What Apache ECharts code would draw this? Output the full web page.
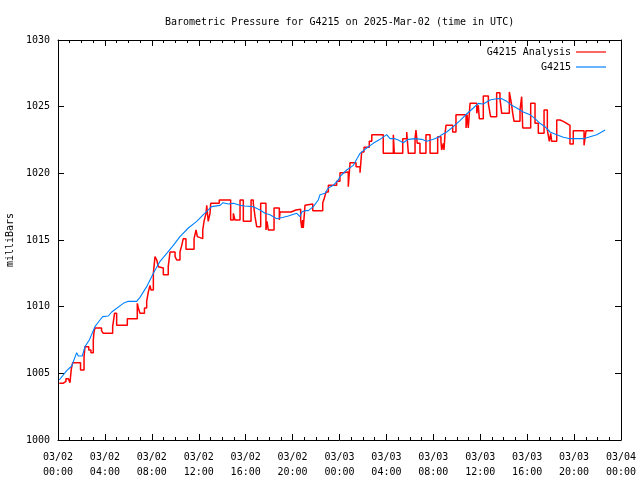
<!DOCTYPE html>
<html>
<head>
<meta charset="utf-8">
<script src="https://cdn.jsdelivr.net/npm/echarts@6/dist/echarts.min.js"></script>
<style>html,body{margin:0;padding:0;background:#fff}#c{width:640px;height:480px}</style>
</head>
<body>
<div id="c"></div>
<script>
// hours since 2025-03-02 00:00 UTC
const analysisTimes = [0.11,0.43,0.68,0.88,1.02,1.13,1.25,1.92,2.22,2.30,2.62,2.81,3.01,3.07,3.15,3.71,3.86,4.66,4.82,5.00,5.91,6.76,6.85,6.99,7.37,7.56,7.70,7.84,7.93,8.13,8.27,8.42,8.55,8.70,8.98,9.40,9.55,9.98,10.12,10.40,10.55,10.68,10.91,11.60,11.77,11.88,11.96,12.34,12.45,12.53,12.62,12.68,12.81,12.96,13.02,13.75,14.72,14.95,15.09,15.52,15.80,16.46,16.65,16.80,16.94,17.28,17.73,17.82,17.93,18.42,18.87,18.93,19.87,20.29,20.69,20.78,20.86,20.91,21.06,21.20,21.72,22.34,22.48,22.57,22.68,22.85,23.05,23.76,24.04,24.32,24.75,24.84,24.90,25.41,25.75,25.89,26.09,26.54,26.75,27.73,28.59,28.67,29.39,29.73,29.87,30.44,30.52,30.63,30.86,31.37,31.72,32.37,32.65,32.71,32.85,32.91,32.99,33.08,33.65,33.93,34.79,34.87,34.98,35.13,35.70,35.83,35.92,36.26,36.69,36.83,36.89,37.40,37.68,37.83,38.48,38.60,38.68,38.77,38.88,39.39,39.53,39.62,40.30,40.67,40.95,41.44,41.72,41.89,42.01,42.09,42.52,42.80,43.08,43.37,43.65,43.93,44.85,45.02,45.64];
const analysisValues = [1004.25,1004.4,1004.6,1004.75,1004.3,1005.3,1005.8,1005.25,1006.25,1007.0,1006.75,1006.55,1007.5,1008.1,1008.4,1008.2,1008.0,1008.5,1009.5,1008.6,1009.1,1010.25,1009.9,1009.5,1009.9,1010.4,1011.1,1011.6,1011.25,1012.5,1013.75,1013.5,1013.0,1012.9,1012.4,1013.0,1014.1,1013.75,1013.5,1014.1,1014.6,1015.1,1014.3,1015.1,1015.75,1015.25,1015.1,1015.75,1016.4,1016.5,1017.0,1017.6,1016.4,1017.0,1017.75,1018.0,1016.5,1017.0,1016.5,1018.0,1016.4,1018.0,1017.75,1016.75,1016.0,1017.75,1015.75,1016.4,1015.75,1017.4,1016.5,1017.1,1017.25,1017.3,1016.5,1015.9,1016.5,1015.9,1017.6,1017.7,1017.2,1017.1,1017.2,1017.8,1018.05,1018.6,1019.1,1019.4,1020.05,1020.1,1019.0,1020.1,1020.8,1020.5,1020.05,1021.6,1021.95,1022.4,1022.9,1021.5,1022.9,1021.5,1022.6,1023.1,1021.5,1022.6,1023.25,1022.25,1021.5,1022.9,1021.5,1022.75,1022.4,1021.75,1022.25,1021.75,1022.9,1023.6,1023.1,1024.4,1023.4,1024.4,1023.4,1025.25,1024.5,1025.1,1024.1,1025.8,1025.25,1024.5,1024.25,1026.05,1025.6,1024.5,1026.1,1025.5,1025.1,1024.5,1023.9,1024.75,1025.75,1023.4,1025.25,1023.75,1023.0,1024.75,1023.25,1022.4,1023.0,1022.4,1024.0,1023.9,1023.75,1023.6,1022.2,1023.2,1022.1,1023.2,1023.2];
const stationTimes = [0.11,0.74,1.17,1.59,1.73,2.07,2.30,2.67,3.15,3.58,3.81,4.29,4.58,4.71,5.57,5.99,6.71,6.99,7.56,8.13,8.70,9.27,9.83,10.40,11.11,11.83,12.39,13.10,13.81,14.07,14.52,14.95,15.52,15.94,16.65,17.22,17.65,18.07,18.65,19.21,19.64,19.78,20.35,20.63,20.78,21.06,21.34,21.77,22.19,22.34,22.76,23.05,23.47,23.90,24.04,24.61,25.18,25.75,26.32,26.88,27.45,28.02,28.31,28.73,29.01,29.44,29.87,30.44,31.01,31.44,32.00,32.42,32.71,33.14,33.70,34.27,34.84,35.41,35.83,36.26,36.83,37.40,37.83,38.26,38.68,39.11,39.67,40.24,40.67,41.09,41.52,41.95,42.52,43.08,43.65,44.22,44.79,45.36,45.93,46.35,46.64];
const stationValues = [1004.5,1005.2,1005.55,1006.55,1006.3,1006.3,1007.0,1007.5,1008.5,1009.0,1009.25,1009.3,1009.6,1009.75,1010.25,1010.4,1010.4,1010.7,1011.5,1012.5,1013.4,1014.0,1014.6,1015.25,1015.9,1016.4,1016.9,1017.5,1017.6,1017.8,1017.7,1017.75,1017.6,1017.55,1017.5,1017.25,1017.0,1016.9,1016.6,1016.7,1016.8,1016.9,1017.0,1016.75,1017.1,1017.2,1017.2,1017.5,1018.0,1018.4,1018.5,1018.9,1019.1,1019.5,1019.75,1020.25,1020.6,1021.5,1021.9,1022.25,1022.55,1022.9,1022.6,1022.6,1022.5,1022.3,1022.55,1022.6,1022.55,1022.4,1022.55,1022.7,1022.9,1023.1,1023.5,1023.95,1024.45,1024.9,1025.25,1025.2,1025.5,1025.6,1025.6,1025.4,1025.1,1024.9,1024.6,1024.4,1024.1,1023.75,1023.5,1023.1,1022.9,1022.7,1022.6,1022.6,1022.6,1022.75,1022.9,1023.1,1023.25];
const xTickLabels = ['03/02\n00:00','03/02\n04:00','03/02\n08:00','03/02\n12:00','03/02\n16:00','03/02\n20:00','03/03\n00:00','03/03\n04:00','03/03\n08:00','03/03\n12:00','03/03\n16:00','03/03\n20:00','03/04\n00:00'];
const seriesNames = ['G4215 Analysis', 'G4215'];
const titleText = 'Barometric Pressure for G4215 on 2025-Mar-02 (time in UTC)';
const yName = 'milliBars';

const FONT = 'DejaVu Sans Mono';
const chart = echarts.init(document.getElementById('c'), null, {renderer: 'canvas'});
const tickStyle = {show: true, inside: true, length: 6, lineStyle: {color: '#000'}};
const minorStyle = {show: true, splitNumber: 4, length: 3, lineStyle: {color: '#000'}};
const axisLine = {show: true, onZero: false, lineStyle: {color: '#000', width: 1}};
const xBase = {type: 'value', min: 0, max: 48, interval: 4, axisLine, axisTick: tickStyle, minorTick: minorStyle, splitLine: {show: false}};
const yBase = {type: 'value', min: 1000, max: 1030, interval: 5, axisLine, axisTick: tickStyle, splitLine: {show: false}};
const legendText = {fontFamily: FONT, fontSize: 10, color: '#000'};

chart.setOption({
  animation: false,
  backgroundColor: '#fff',
  title: {text: titleText, left: 160, top: 12, textStyle: {fontFamily: FONT, fontSize: 10, fontWeight: 'normal', color: '#000'}},
  grid: {left: 58, right: 19, top: 40, bottom: 40, containLabel: false, outerBoundsMode: 'none'},
  legend: [
    {data: [seriesNames[0]], orient: 'vertical', align: 'right', right: 29, top: 42, icon: 'rect', itemWidth: 30, itemHeight: 1.2, textStyle: legendText},
    {data: [seriesNames[1]], orient: 'vertical', align: 'right', right: 29, top: 57, icon: 'rect', itemWidth: 30, itemHeight: 1.2, textStyle: legendText}
  ],
  xAxis: [
    Object.assign({}, xBase, {position: 'bottom', axisLabel: {margin: 10, fontFamily: FONT, fontSize: 10, color: '#000', lineHeight: 15,
      formatter: v => xTickLabels[Math.round(v / 4)]}}),
    Object.assign({}, xBase, {position: 'top', axisLabel: {show: false}})
  ],
  yAxis: [
    Object.assign({}, yBase, {position: 'left', name: yName, nameLocation: 'middle', nameGap: 42,
      nameTextStyle: {fontFamily: FONT, fontSize: 10, color: '#000'},
      axisLabel: {margin: 8, fontFamily: FONT, fontSize: 10, color: '#000', formatter: v => String(v)}}),
    Object.assign({}, yBase, {position: 'right', axisLabel: {show: false}})
  ],
  series: [
    {name: seriesNames[0], type: 'line', step: 'end', symbol: 'none', color: '#ff0000',
     lineStyle: {width: 1.5, color: '#ff0000'}, data: analysisTimes.map((t, i) => [t, analysisValues[i]])},
    {name: seriesNames[1], type: 'line', symbol: 'none', color: '#0080ff',
     lineStyle: {width: 1.1, color: '#0080ff'}, data: stationTimes.map((t, i) => [t, stationValues[i]])}
  ]
});
</script>
</body>
</html>
